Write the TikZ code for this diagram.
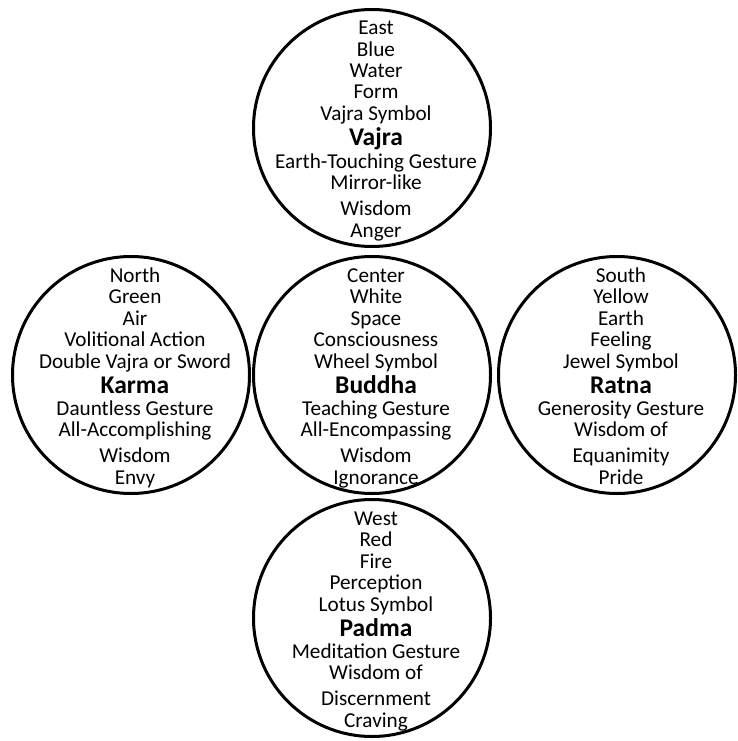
\documentclass[tikz,border=0pt]{standalone}
\usepackage{fontspec}
\setmainfont{Carlito}
\begin{document}
\begin{tikzpicture}[x=1pt,y=-1pt,
  petal/.style={circle,draw=black,line width=3pt,minimum size=237pt,inner sep=0pt},
  entry/.style={anchor=base,inner sep=0pt,font=\fontsize{21.2}{23}\selectfont},
  family/.style={anchor=base,inner sep=0pt,font=\fontsize{25.5}{27}\bfseries\selectfont}]
\useasboundingbox (0,0) rectangle (737,741);

% the five families: centre and the four directions
\node[petal] (vajra)  at (372,128) {};
\node[petal] (buddha) at (372,375) {};
\node[petal] (karma)  at (131,375) {};
\node[petal] (ratna)  at (617,375) {};
\node[petal] (padma)  at (372,618) {};

% ten lines of attributes per circle, the sixth is the family name
\newcommand\petaltext[2]{%
  \foreach \t [count=\i] in {#2} {
    \pgfmathsetmacro\dy{{-93,-71.5,-50,-29,-7,18,40,61,87,109.5}[\i-1]}
    \ifnum\i=6
      \node[family] (#1-\i) at ([xshift=4pt,yshift=-\dy pt]#1.center) {\t};
    \else
      \node[entry] (#1-\i) at ([xshift=4pt,yshift=-\dy pt]#1.center) {\t};
    \fi
  }%
}

\petaltext{vajra}{East,Blue,Water,Form,Vajra Symbol,Vajra,Earth-Touching Gesture,Mirror-like,Wisdom,Anger}
\petaltext{buddha}{Center,White,Space,Consciousness,Wheel Symbol,Buddha,Teaching Gesture,All-Encompassing,Wisdom,Ignorance}
\petaltext{karma}{North,Green,Air,Volitional Action,Double Vajra or Sword,Karma,Dauntless Gesture,All-Accomplishing,Wisdom,Envy}
\petaltext{ratna}{South,Yellow,Earth,Feeling,Jewel Symbol,Ratna,Generosity Gesture,Wisdom of,Equanimity,Pride}
\petaltext{padma}{West,Red,Fire,Perception,Lotus Symbol,Padma,Meditation Gesture,Wisdom of,Discernment,Craving}
\end{tikzpicture}
\end{document}
